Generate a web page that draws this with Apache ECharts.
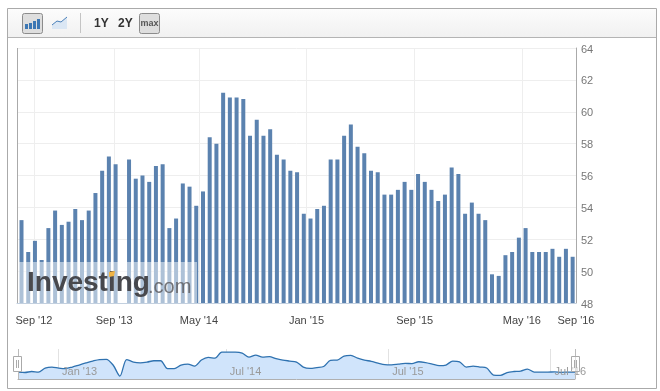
<!DOCTYPE html>
<html>
<head>
<meta charset="utf-8">
<script src="https://cdn.jsdelivr.net/npm/echarts@6/dist/echarts.min.js"></script>
<style>html,body{margin:0;padding:0;background:#fff}#c{width:660px;height:391px}</style>
</head>
<body>
<div id="c"></div>
<script>
// Monthly index readings, one per bar (null = missing bar)
const barValues = [53.2,51.2,51.9,50.7,52.7,53.8,52.9,53.1,53.9,53.2,53.8,54.9,56.3,57.2,56.7,null,57.0,55.8,56.0,55.6,56.6,56.7,52.7,53.3,55.5,55.3,54.1,55.0,58.4,58.0,61.2,60.9,60.9,60.8,58.5,59.5,58.5,58.9,57.3,57.0,56.3,56.2,53.6,53.3,53.9,54.1,57.0,57.0,58.5,59.2,57.8,57.4,56.3,56.2,54.8,54.8,55.1,55.6,55.1,56.1,55.6,55.1,54.4,54.8,56.5,56.1,53.6,54.3,53.6,53.2,49.8,49.7,51.0,51.2,52.1,52.7,51.2,51.2,51.2,51.4,50.9,51.4,50.9];
// Overview (navigator) curve, one reading per bar slot
const navValues = [51.3,51.1,51.6,51.3,53.3,53.8,53.3,53.05,53.8,54.8,55.8,56.75,57.5,57.6,54.8,49.35,57.5,56.25,55.9,56.25,56.9,56.9,53.05,53.05,54.8,55.25,54.3,57.25,58.55,58.2,61.2,61.2,61.2,60.7,58.7,59.7,58.7,58.95,57.95,57.25,56.75,56.25,53.8,53.15,53.55,54.05,57.1,57.25,59.2,59.55,58.2,57.25,56.6,55.75,55.0,54.9,55.25,55.6,55.5,56.4,56.0,55.25,54.5,54.8,56.75,56.4,53.8,54.3,53.8,53.3,49.85,49.7,51.1,51.6,51.8,52.8,51.3,51.3,51.3,51.4,51.2,51.3,51.3];
// Date ticks of the main axis, in bar-slot units
const mainTickSlots = [1.85,13.8,26.4,42.4,58.5,74.45,82.5];
const mainTickLabels = ["Sep '12","Sep '13","May '14","Jan '15","Sep '15","May '16","Sep '16"];
// Date ticks of the overview axis, in bar-slot units
const navTickSlots = [5.9,30.6,54.5,78.4];
const navTickLabels = ["Jan '13","Jul '14","Jul '15","Jul '16"];
const toolbarLabels = ["1Y","2Y","max"];

const FONT = '"Liberation Sans", Arial, sans-serif';
const BAR = '#5b82af';
const chart = echarts.init(document.getElementById('c'), null, {renderer:'canvas'});

function labelFor(slots, labels){
  return v => { const i = slots.findIndex(s => Math.abs(s - v) < 1e-6); return i < 0 ? '' : labels[i]; };
}
const iconBars = [[25,5],[29,6],[33,8],[37,10]]; // toolbar icon, not chart data

chart.setOption({
  animation:false,
  backgroundColor:'#fff',
  grid:[
    {left:17, right:84, top:48, height:255, containLabel:false},
    {left:18, right:85, top:349, height:30, containLabel:false}
  ],
  xAxis:[
    {type:'value', gridIndex:0, min:-0.67, max:82.5,
      axisLine:{show:true,onZero:false,lineStyle:{color:'#c3d0df',width:1}},
      axisTick:{show:false,customValues:mainTickSlots},
      axisLabel:{customValues:mainTickSlots,formatter:labelFor(mainTickSlots,mainTickLabels),
        color:'#444',fontFamily:FONT,fontSize:11,margin:12,showMinLabel:true,showMaxLabel:true,hideOverlap:false},
      splitLine:{show:true,lineStyle:{color:'#eeeeee',width:1}}},
    {type:'value', gridIndex:1, min:0, max:82, position:'bottom',
      axisLine:{show:true,onZero:false,lineStyle:{color:'#b0b0b0',width:1}},
      axisTick:{show:false,customValues:navTickSlots},
      axisLabel:{show:false,customValues:navTickSlots},
      splitLine:{show:true,lineStyle:{color:'#e2e2e2',width:1}}},
    {type:'value', gridIndex:1, min:0, max:82, z:10, position:'bottom',
      axisLine:{show:false,onZero:false},
      axisTick:{show:false,customValues:navTickSlots},
      axisLabel:{customValues:navTickSlots,formatter:labelFor(navTickSlots,navTickLabels),inside:true,
        color:'#999',fontFamily:FONT,fontSize:11,margin:2,align:'left',padding:[0,0,0,4],hideOverlap:false},
      splitLine:{show:false}}
  ],
  yAxis:[
    {type:'value', gridIndex:0, position:'right', min:48, max:64, interval:2,
      axisLine:{show:true,onZero:false,lineStyle:{color:'#aaa',width:1}},
      axisTick:{show:false},
      axisLabel:{color:'#777',fontFamily:FONT,fontSize:11,margin:5,verticalAlign:'top',lineHeight:3},
      splitLine:{show:true,lineStyle:{color:'#eeeeee',width:1}}},
    {type:'value', gridIndex:1, min:47.9, max:62.7, show:false, splitLine:{show:false}}
  ],
  series:[
    {type:'bar', xAxisIndex:0, yAxisIndex:0, barWidth:4, z:3,
      itemStyle:{color:BAR},
      data:barValues.map((v,i)=>[i, v===null?'-':v])},
    {type:'line', xAxisIndex:1, yAxisIndex:1, smooth:0.3, symbol:'none', z:3,
      lineStyle:{color:'#2f72b0',width:1.3},
      areaStyle:{color:'#d0e4fb',opacity:1},
      data:navValues.map((v,i)=>[i,v])}
  ],
  graphic:{elements:[
    // outer frame + toolbar
    {type:'rect',z:0,silent:true,shape:{x:7.5,y:8.5,width:649,height:380},style:{fill:'none',stroke:'#aaa',lineWidth:1}},
    {type:'rect',z:1,silent:true,shape:{x:8,y:9,width:648,height:28},
      style:{fill:new echarts.graphic.LinearGradient(0,0,0,1,[{offset:0,color:'#fcfcfc'},{offset:1,color:'#f1f1f1'}])}},
    {type:'line',z:1,silent:true,shape:{x1:8,y1:37.5,x2:656,y2:37.5},style:{stroke:'#b4b4b4',lineWidth:1}},
    {type:'rect',z:2,silent:true,shape:{x:22.5,y:13.5,width:20,height:20,r:2},style:{fill:'#dedede',stroke:'#8c8c8c',lineWidth:1}},
    ...iconBars.map(b=>({type:'rect',z:3,silent:true,shape:{x:b[0],y:29-b[1],width:3,height:b[1]},style:{fill:'#3e78b4'}})),
    {type:'polygon',z:2,silent:true,shape:{points:[[52,29],[52,25],[57,21],[61,22],[67,17],[67,29]]},style:{fill:'#dbe7f4'}},
    {type:'polyline',z:3,silent:true,shape:{points:[[52,25],[57,21],[61,22],[67,17]]},style:{stroke:'#4a80ba',lineWidth:1,fill:'none'}},
    {type:'line',z:2,silent:true,shape:{x1:80.5,y1:13,x2:80.5,y2:33},style:{stroke:'#c4c4c4',lineWidth:1}},
    {type:'text',z:3,silent:true,style:{x:94,y:24,text:toolbarLabels[0],fill:'#333',font:'bold 12px '+FONT,textVerticalAlign:'middle'}},
    {type:'text',z:3,silent:true,style:{x:118,y:24,text:toolbarLabels[1],fill:'#333',font:'bold 12px '+FONT,textVerticalAlign:'middle'}},
    {type:'rect',z:2,silent:true,shape:{x:139.5,y:13.5,width:20,height:20,r:2},style:{fill:'#dedede',stroke:'#8c8c8c',lineWidth:1}},
    {type:'text',z:3,silent:true,style:{x:149.5,y:24,text:toolbarLabels[2],fill:'#555',font:'bold 9px '+FONT,textAlign:'center',textVerticalAlign:'middle'}},
    // left border of plot
    {type:'line',z:5,silent:true,shape:{x1:17.5,y1:48,x2:17.5,y2:303},style:{stroke:'#aaa',lineWidth:1}},
    // watermark
    {type:'rect',z:20,silent:true,shape:{x:18,y:262,width:179,height:41},style:{fill:'rgba(255,255,255,0.5)'}},
    {type:'text',z:21,silent:true,style:{x:27,y:297,text:'Investing',fill:'rgba(64,64,68,0.95)',font:'bold 28px '+FONT,textVerticalAlign:'bottom'}},
    {type:'text',z:21,silent:true,style:{x:148,y:297,text:'.com',fill:'rgba(100,100,104,0.9)',font:'20px '+FONT,textVerticalAlign:'bottom'}},
    {type:'polygon',z:22,silent:true,shape:{points:[[109,272],[115,271],[114,276],[109,277]]},style:{fill:'#f0b445'}},
    // navigator handles
    {type:'line',z:25,silent:true,shape:{x1:18.5,y1:349,x2:18.5,y2:379},style:{stroke:'#bbb',lineWidth:1}},
    {type:'rect',z:26,silent:true,shape:{x:13.5,y:356.5,width:8,height:15},style:{fill:'#fff',stroke:'#aaa',lineWidth:1}},
    {type:'line',z:27,silent:true,shape:{x1:16.5,y1:360,x2:16.5,y2:368},style:{stroke:'#aaa',lineWidth:1}},
    {type:'line',z:27,silent:true,shape:{x1:18.5,y1:360,x2:18.5,y2:368},style:{stroke:'#aaa',lineWidth:1}},
    {type:'line',z:25,silent:true,shape:{x1:575.5,y1:349,x2:575.5,y2:379},style:{stroke:'#bbb',lineWidth:1}},
    {type:'rect',z:26,silent:true,shape:{x:571.5,y:356.5,width:8,height:15},style:{fill:'rgba(255,255,255,0.5)',stroke:'#aaa',lineWidth:1}},
    {type:'line',z:27,silent:true,shape:{x1:574.5,y1:360,x2:574.5,y2:368},style:{stroke:'#aaa',lineWidth:1}},
    {type:'line',z:27,silent:true,shape:{x1:576.5,y1:360,x2:576.5,y2:368},style:{stroke:'#aaa',lineWidth:1}}
  ]}
});
</script>
</body>
</html>
